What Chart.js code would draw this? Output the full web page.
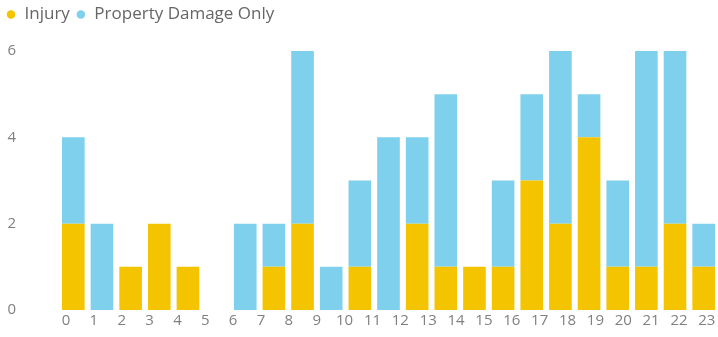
<!DOCTYPE html>
<html>
<head>
<meta charset="utf-8">
<script src="https://cdn.jsdelivr.net/npm/chart.js@4.4.1/dist/chart.umd.min.js"></script>
<style>
  html, body { margin: 0; padding: 0; background: #ffffff; }
  #wrap { width: 718px; height: 337px; }
</style>
</head>
<body>
<div id="wrap"><canvas id="c" width="718" height="337"></canvas></div>
<script>
// Categories (hour of day for each bar)
const categories = ['0','1','2','3','4','5','6','7','8','9','10','11','12','13','14','15','16','17','18','19','20','21','22'];
// Series values
const injury         = [2,0,1,2,1,0,0,1,2,0,1,0,2,1,1,1,3,2,4,1,1,2,1];
const propertyDamage = [2,2,0,0,0,0,2,1,4,1,2,4,2,4,0,2,2,4,1,2,5,4,1];
// Tick labels
const hourLabels = ['0','1','2','3','4','5','6','7','8','9','10','11','12','13','14','15','16','17','18','19','20','21','22','23'];
const yTicks = [0, 2, 4, 6];

const FONT = "'Open Sans', 'Noto Sans', sans-serif";

const legendSpacer = {
  id: 'legendSpacer',
  beforeInit(chart) {
    const origFit = chart.legend.fit;
    chart.legend.fit = function () {
      origFit.call(this);
      this.height = 51;
    };
  }
};

new Chart(document.getElementById('c'), {
  type: 'bar',
  data: {
    labels: categories,
    datasets: [
      { label: 'Injury', data: injury, backgroundColor: '#F4C400', borderWidth: 0,
        categoryPercentage: 0.79, barPercentage: 1 },
      { label: 'Property Damage Only', data: propertyDamage, backgroundColor: '#7ED0EC', borderWidth: 0,
        categoryPercentage: 0.79, barPercentage: 1 }
    ]
  },
  plugins: [legendSpacer],
  options: {
    responsive: false,
    devicePixelRatio: 1,
    animation: false,
    layout: { padding: { left: 0, right: 0, top: 0, bottom: 3 } },
    plugins: {
      tooltip: { enabled: false },
      legend: {
        position: 'top',
        align: 'start',
        labels: {
          usePointStyle: true,
          pointStyle: 'circle',
          boxWidth: 10,
          boxHeight: 6,
          padding: 6,
          color: '#666666',
          font: { family: FONT, size: 17 }
        }
      }
    },
    scales: {
      x: { stacked: true, display: false, offset: true },
      x2: {
        type: 'linear',
        position: 'bottom',
        offset: false,
        bounds: 'data',
        min: -0.25,
        max: 23.4,
        grid: { display: false, drawTicks: false, offset: false },
        border: { display: false },
        afterFit: (s) => { s.height = 24; s.paddingLeft = 0; s.paddingRight = 0; },
        afterBuildTicks: (s) => { s.ticks = hourLabels.map((_, i) => ({ value: i })); },
        ticks: {
          autoSkip: false,
          maxRotation: 0,
          padding: 2,
          color: '#808080',
          font: { family: FONT, size: 15 },
          callback: (v) => hourLabels[v]
        }
      },
      y: {
        stacked: true,
        min: 0,
        max: 6,
        grid: { display: false, drawTicks: false },
        border: { display: false },
        afterFit: (s) => { s.width = 59; s.paddingTop = 0; s.paddingBottom = 0; },
        afterBuildTicks: (s) => { s.ticks = yTicks.map(v => ({ value: v })); },
        ticks: {
          crossAlign: 'near',
          padding: 43,
          color: '#808080',
          font: { family: FONT, size: 15 }
        }
      }
    }
  }
});
</script>
</body>
</html>
